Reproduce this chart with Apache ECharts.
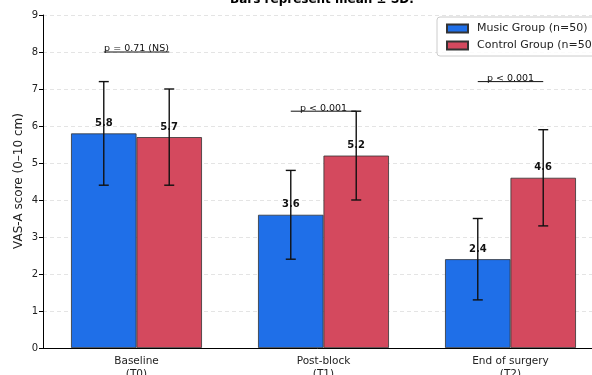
<!DOCTYPE html>
<html>
<head>
<meta charset="utf-8">
<script src="https://cdn.jsdelivr.net/npm/echarts@6/dist/echarts.min.js"></script>
<style>html,body{margin:0;padding:0;background:#fff;overflow:hidden}#c{width:592px;height:375px}</style>
</head>
<body>
<div id="c"></div>
<script>
const categories = ['Baseline\n(T0)', 'Post-block\n(T1)', 'End of surgery\n(T2)'];
const musicMean = [5.8, 3.6, 2.4];
const musicSD = [1.4, 1.2, 1.1];
const controlMean = [5.7, 5.2, 4.6];
const controlSD = [1.3, 1.2, 1.3];
const sigY = [8.0, 6.4, 7.2];
const sigLabels = ['p = 0.71 (NS)', 'p < 0.001', 'p < 0.001'];
const yTicks = [0, 1, 2, 3, 4, 5, 6, 7, 8, 9];

const FONT = 'DejaVu Sans';
const HALF = 0.175;

const chart = echarts.init(document.getElementById('c'), null, {renderer: 'canvas'});

function errSeries(means, sds, off) {
  return {
    type: 'custom',
    z: 10,
    silent: true,
    data: means.map((m, i) => [i, m, sds[i]]),
    renderItem: function (params, api) {
      const i = api.value(0), m = api.value(1), s = api.value(2);
      const band = api.size([1, 0])[0];
      const c = api.coord([i, m]);
      const x = c[0] + off * band;
      const yt = api.coord([i, m + s])[1];
      const yb = api.coord([i, m - s])[1];
      const st = {stroke: '#111', lineWidth: 1.4};
      return {
        type: 'group',
        children: [
          {type: 'line', shape: {x1: x, y1: yt, x2: x, y2: yb}, style: st},
          {type: 'line', shape: {x1: x - 5, y1: yt, x2: x + 5, y2: yt}, style: st},
          {type: 'line', shape: {x1: x - 5, y1: yb, x2: x + 5, y2: yb}, style: st}
        ]
      };
    }
  };
}

const option = {
  animation: false,
  textStyle: {fontFamily: FONT},
  graphic: [{
    type: 'text',
    style: {text: 'Bars represent mean ± SD.', x: 322, y: 0, textAlign: 'center', textVerticalAlign: 'middle',
      fontFamily: FONT, fontWeight: 'bold', fontSize: 12, fill: '#000'}
  }, {
    type: 'text', x: 19, y: 181, rotation: Math.PI / 2,
    style: {text: 'VAS-A score (0–10 cm)', x: 0, y: 0, textAlign: 'center', textVerticalAlign: 'middle',
      fontFamily: FONT, fontSize: 12, fill: '#222'}
  }],
  legend: {
    left: 437, top: 17, orient: 'vertical',
    icon: 'rect',
    itemWidth: 21, itemHeight: 8, itemGap: 6,
    padding: [6, 10, 5, 9],
    borderColor: '#cccccc', borderWidth: 1, borderRadius: 3,
    backgroundColor: 'rgba(255,255,255,0.85)',
    textStyle: {fontFamily: FONT, fontSize: 11, color: '#222', padding: [0, 0, 0, 4]},
    data: ['Music Group (n=50)', 'Control Group (n=50)']
  },
  grid: {left: 43, right: -12, top: 15, bottom: 27, containLabel: false, outerBoundsMode: 'none'},
  xAxis: {
    type: 'category',
    data: categories,
    axisLine: {lineStyle: {color: '#000', width: 1}},
    axisTick: {alignWithLabel: true, length: 4, lineStyle: {color: '#000'}},
    axisLabel: {fontFamily: FONT, fontSize: 10.5, color: '#222', margin: 7, lineHeight: 13},
    splitLine: {show: false}
  },
  yAxis: {
    type: 'value', min: 0, max: 9, interval: 1,
    axisLine: {show: true, lineStyle: {color: '#000', width: 1}},
    axisTick: {show: true, length: 4, lineStyle: {color: '#000'}},
    axisLabel: {fontFamily: FONT, fontSize: 10, color: '#222', margin: 5,
      formatter: v => yTicks.includes(v) ? String(v) : ''},
    splitLine: {show: true, lineStyle: {color: '#dddddd', type: [4, 3], width: 0.8}}
  },
  series: [
    {
      name: 'Music Group (n=50)', type: 'bar', data: musicMean,
      barWidth: '35%', barGap: '0%',
      itemStyle: {color: '#1f6fe8', borderColor: '#333', borderWidth: 0.8},
      label: {show: true, position: 'top', distance: 5, fontFamily: FONT, fontSize: 10, fontWeight: 'bold', color: '#111',
        formatter: p => p.value.toFixed(1)}
    },
    {
      name: 'Control Group (n=50)', type: 'bar', data: controlMean,
      barWidth: '35%', barGap: '0%',
      itemStyle: {color: '#d4495e', borderColor: '#333', borderWidth: 0.8},
      label: {show: true, position: 'top', distance: 5, fontFamily: FONT, fontSize: 10, fontWeight: 'bold', color: '#111',
        formatter: p => p.value.toFixed(1)}
    },
    errSeries(musicMean, musicSD, -HALF),
    errSeries(controlMean, controlSD, HALF),
    {
      type: 'custom', z: 11, silent: true,
      data: sigY.map((y, i) => [i, y]),
      renderItem: function (params, api) {
        const i = api.value(0), y = api.value(1);
        const band = api.size([1, 0])[0];
        const c = api.coord([i, y]);
        return {
          type: 'group',
          children: [
            {type: 'line', shape: {x1: c[0] - HALF * band, y1: c[1], x2: c[0] + HALF * band, y2: c[1]},
              style: {stroke: '#111', lineWidth: 1}},
            {type: 'text', style: {text: sigLabels[params.dataIndex], x: c[0], y: c[1] + 2,
              textAlign: 'center', textVerticalAlign: 'bottom', fontFamily: FONT, fontSize: 9.5, fill: '#111'}}
          ]
        };
      }
    }
  ]
};
chart.setOption(option);
</script>
</body>
</html>
